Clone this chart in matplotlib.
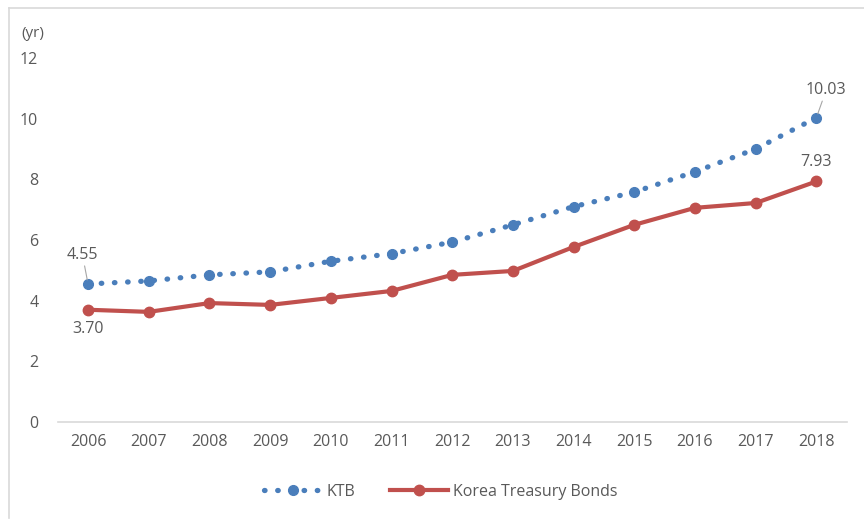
import numpy as np
import matplotlib.pyplot as plt
from matplotlib.lines import Line2D

plt.rcParams['font.family'] = ['Open Sans', 'DejaVu Sans']

years = ['2006', '2007', '2008', '2009', '2010', '2011', '2012',
         '2013', '2014', '2015', '2016', '2017', '2018']
ktb = [4.55, 4.65, 4.85, 4.95, 5.30, 5.55, 5.93, 6.50, 7.10, 7.58, 8.25, 9.00, 10.03]
treasury = [3.70, 3.63, 3.92, 3.86, 4.09, 4.32, 4.85, 4.98, 5.77, 6.50, 7.06, 7.22, 7.93]

blue = '#4a7ebb'
red = '#c0504d'
grey = '#595959'
fs = 11.5

dots = (0, (0.1, 2.4))

fig = plt.figure(figsize=(8.64, 5.22), dpi=100)
ax = fig.add_axes([0.0668, 0.1916, 0.9132, 0.6973])

x = np.arange(len(years))
ax.plot(x, ktb, color=blue, linestyle=dots, linewidth=3.8,
        dash_capstyle='round', marker='o', markersize=7, zorder=3)
ax.plot(x, treasury, color=red, linewidth=3.0, marker='o', markersize=7.5,
        zorder=3)

ax.set_xlim(-0.5, len(years) - 0.5)
ax.set_ylim(0, 12)
ax.set_xticks(x)
ax.set_xticklabels(years)
ax.set_yticks(np.arange(0, 13, 2))
ax.tick_params(length=0, colors=grey, labelsize=fs)
ax.tick_params(axis='x', pad=9)
ax.tick_params(axis='y', pad=14)
for s in ['left', 'right', 'top']:
    ax.spines[s].set_visible(False)
ax.spines['bottom'].set_color('#d9d9d9')
ax.spines['bottom'].set_linewidth(1.2)

# first and last value labels
ax.annotate(f'{ktb[0]:.2f}', xy=(x[0], ktb[0]), xytext=(-4, 15),
            textcoords='offset points', ha='center', va='bottom', color=grey,
            fontsize=fs, arrowprops=dict(arrowstyle='-', color='#a6a6a6', lw=0.8,
                                         shrinkA=0, shrinkB=3))
ax.annotate(f'{treasury[0]:.2f}', xy=(x[0], treasury[0]), xytext=(0, -8),
            textcoords='offset points', ha='center', va='top', color=grey,
            fontsize=fs)
ax.annotate(f'{ktb[-1]:.2f}', xy=(x[-1], ktb[-1]), xytext=(7, 14),
            textcoords='offset points', ha='center', va='bottom', color=grey,
            fontsize=fs, arrowprops=dict(arrowstyle='-', color='#a6a6a6', lw=0.8,
                                         shrinkA=0, shrinkB=3))
ax.annotate(f'{treasury[-1]:.2f}', xy=(x[-1], treasury[-1]), xytext=(0, 8),
            textcoords='offset points', ha='center', va='bottom', color=grey,
            fontsize=fs)

fig.text(0.025, 0.935, '(yr)', color=grey, fontsize=fs - 0.5, va='center')

handles = [
    Line2D([], [], color=blue, linestyle=dots, linewidth=3.8,
           dash_capstyle='round', marker='o', markersize=7),
    Line2D([], [], color=red, linewidth=3.0, marker='o', markersize=7.5),
]
fig.legend(handles, ['KTB', 'Korea Treasury Bonds'], loc='center',
           bbox_to_anchor=(0.51, 0.058), ncol=2, frameon=False, fontsize=fs,
           labelcolor=grey, handlelength=3.6, handletextpad=0.3, columnspacing=2.2)

# thin frame along the left and top edges
fig.add_artist(Line2D([0.0104, 0.0104], [0.008, 0.985], color='#d9d9d9', lw=1.2,
                      transform=fig.transFigure))
fig.add_artist(Line2D([0.0104, 1.0], [0.985, 0.985], color='#d9d9d9', lw=1.2,
                      transform=fig.transFigure))

fig.savefig('out.png', dpi=100)
